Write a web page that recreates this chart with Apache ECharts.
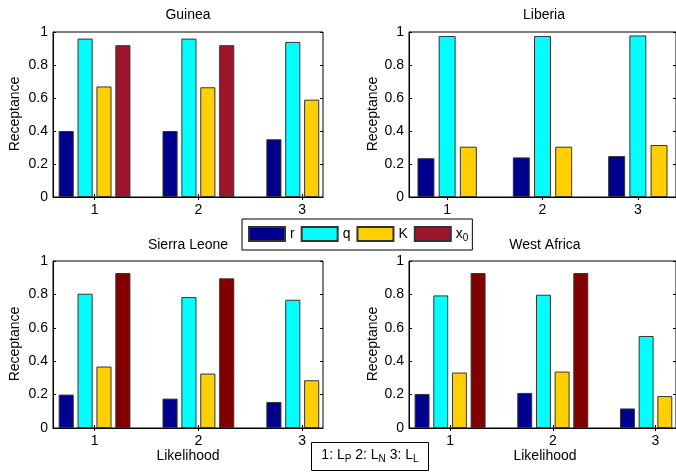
<!DOCTYPE html>
<html>
<head>
<meta charset="utf-8">
<script src="https://cdn.jsdelivr.net/npm/echarts@6/dist/echarts.min.js"></script>
<style>html,body{margin:0;padding:0;background:#fff}#c{width:676px;height:476px}</style>
</head>
<body>
<div id="c"></div>
<script>
const categories = [1, 2, 3];
const yTicks = [0, 0.2, 0.4, 0.6, 0.8, 1];
const paramNames = ['r', 'q', 'K', 'x0'];
const panelTitles = ['Guinea', 'Liberia', 'Sierra Leone', 'West Africa'];

const guineaR  = [0.40, 0.40, 0.35];
const guineaQ  = [0.96, 0.96, 0.94];
const guineaK  = [0.67, 0.665, 0.59];
const guineaX0 = [0.92, 0.92, null];

const liberiaR = [0.235, 0.24, 0.248];
const liberiaQ = [0.976, 0.976, 0.979];
const liberiaK = [0.305, 0.305, 0.315];

const sierraR  = [0.20, 0.176, 0.156];
const sierraQ  = [0.804, 0.784, 0.768];
const sierraK  = [0.368, 0.326, 0.286];
const sierraX0 = [0.928, 0.896, null];

const westR  = [0.204, 0.21, 0.117];
const westQ  = [0.794, 0.798, 0.551];
const westK  = [0.332, 0.338, 0.191];
const westX0 = [0.928, 0.928, null];

const FONT = '"Liberation Sans", Arial, Helvetica, sans-serif';
const colors = { r: '#00008f', q: '#00ffff', K: '#ffd000' };
const x0Colors = ['#a0152e', null, '#800000', '#800000'];

const panels = [
  { vals: [guineaR, guineaQ, guineaK, guineaX0], grid: { left: 53, top: 32, width: 270, height: 165 }, xmax: 3.2 },
  { vals: [liberiaR, liberiaQ, liberiaK], grid: { left: 409, top: 32, width: 271, height: 165 }, xmax: 3.4 },
  { vals: [sierraR, sierraQ, sierraK, sierraX0], grid: { left: 53, top: 261, width: 270, height: 167 }, xmax: 3.2 },
  { vals: [westR, westQ, westK, westX0], grid: { left: 409, top: 261, width: 272, height: 167 }, xmax: 3.2 }
];

const grids = [], xAxes = [], yAxes = [], series = [];
panels.forEach((p, i) => {
  grids.push(Object.assign({ show: true, borderColor: '#000', borderWidth: 1, backgroundColor: '#fff' }, p.grid));
  const tickStyle = { show: true, inside: true, length: 3, lineStyle: { color: '#000' }, customValues: categories };
  xAxes.push({ type: 'value', gridIndex: i, min: 0.6, max: p.xmax, position: 'bottom',
    axisLine: { show: true, lineStyle: { color: '#000' } }, splitLine: { show: false },
    axisTick: tickStyle,
    axisLabel: { customValues: categories, color: '#000', fontSize: 14, fontFamily: FONT, margin: 6 } });
  xAxes.push({ type: 'value', gridIndex: i, min: 0.6, max: p.xmax, position: 'top',
    axisLine: { show: false }, splitLine: { show: false }, axisTick: tickStyle, axisLabel: { show: false } });
  yAxes.push({ type: 'value', gridIndex: i, min: 0, max: 1, interval: 0.2, position: 'left',
    axisLine: { show: true, lineStyle: { color: '#000' } }, splitLine: { show: false },
    axisTick: { show: true, inside: true, length: 3, lineStyle: { color: '#000' } },
    axisLabel: { color: '#000', fontSize: 14, fontFamily: FONT, margin: 5 } });
  yAxes.push({ type: 'value', gridIndex: i, min: 0, max: 1, interval: 0.2, position: 'right',
    axisLine: { show: false }, splitLine: { show: false },
    axisTick: { show: true, inside: true, length: 3, lineStyle: { color: '#000' } },
    axisLabel: { show: false } });
  const n = p.vals.length;
  const pitch = 1 / (n + 1.5);
  const bw = (pitch * 0.8 * 100).toFixed(2) + '%';
  p.vals.forEach((arr, k) => {
    const name = paramNames[k];
    const color = name === 'x0' ? x0Colors[i] : colors[name];
    series.push({
      type: 'bar', name: name, xAxisIndex: 2 * i, yAxisIndex: 2 * i,
      barWidth: bw, barGap: '25%',
      itemStyle: { color: color, borderColor: '#333', borderWidth: 1 },
      emphasis: { disabled: true },
      data: categories.map((c, j) => arr[j] == null ? null : [c, arr[j]]).filter(d => d)
    });
  });
});

const graphic = [];
const titlePos = [[188, 15], [544, 15], [188, 245], [545, 245]];
panelTitles.forEach((t, i) => {
  graphic.push({ type: 'text', x: titlePos[i][0], y: titlePos[i][1],
    style: { text: t, align: 'center', verticalAlign: 'middle', font: '14px ' + FONT, fill: '#000' } });
});
[[15, 114], [373, 114], [15, 344], [373, 344]].forEach(pt => {
  graphic.push({ type: 'text', x: pt[0], y: pt[1], rotation: Math.PI / 2,
    style: { text: 'Receptance', align: 'center', verticalAlign: 'middle', font: '14px ' + FONT, fill: '#000' } });
});
[[188, 456], [545, 456]].forEach(pt => {
  graphic.push({ type: 'text', x: pt[0], y: pt[1],
    style: { text: 'Likelihood', align: 'center', verticalAlign: 'middle', font: '14px ' + FONT, fill: '#000' } });
});
graphic.push({ type: 'rect', shape: { x: 311.5, y: 442.5, width: 117, height: 28 },
  style: { fill: '#fff', stroke: '#000', lineWidth: 1 } });
graphic.push({ type: 'text', x: 370, y: 455,
  style: { text: '1: L{s|P} 2: L{s|N} 3: L{s|L}', align: 'center', verticalAlign: 'middle',
    font: '14px ' + FONT, fill: '#000',
    rich: { s: { fontSize: 10, fontFamily: FONT, padding: [9, 0, 0, 0], fill: '#000' } } } });

const option = {
  animation: false,
  grid: grids, xAxis: xAxes, yAxis: yAxes, series: series,
  legend: {
    data: paramNames, left: 242, top: 219, orient: 'horizontal',
    itemWidth: 36, itemHeight: 14, itemGap: 6, icon: 'rect',
    padding: [7, 4, 7, 6], borderColor: '#000', borderWidth: 1, backgroundColor: '#fff',
    selectedMode: false,
    formatter: n => n === 'x0' ? 'x{s|0}' : n,
    textStyle: { fontSize: 14, fontFamily: FONT, color: '#000',
      rich: { s: { fontSize: 10, fontFamily: FONT, padding: [8, 0, 0, 0] } } }
  },
  graphic: graphic
};
const chart = echarts.init(document.getElementById('c'), null, { renderer: 'canvas' });
chart.setOption(option);
</script>
</body>
</html>
